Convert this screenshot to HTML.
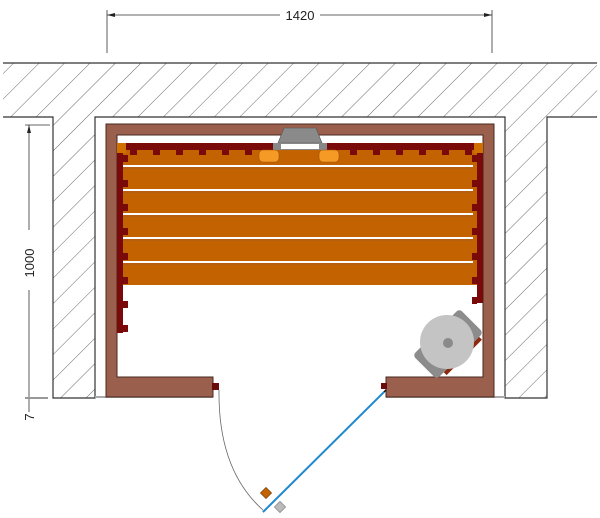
<!DOCTYPE html>
<html><head><meta charset="utf-8"><style>html,body{margin:0;padding:0;background:#fff}svg{display:block}</style></head><body>
<svg width="600" height="518" viewBox="0 0 600 518" xmlns="http://www.w3.org/2000/svg" font-family="Liberation Sans, sans-serif">
<defs>
<pattern id="h" patternUnits="userSpaceOnUse" width="18" height="18" patternTransform="rotate(45)">
<rect width="18" height="18" fill="#fff"/><line x1="0" y1="0" x2="0" y2="18" stroke="#444" stroke-width="0.8"/>
</pattern>
</defs>
<path d="M3,63 H597 V117 H547 V398 H505 V117 H95 V398 H53 V117 H3 Z" fill="url(#h)"/>
<line x1="3" y1="63" x2="597" y2="63" stroke="#333" stroke-width="1.2"/>
<polyline points="3,117 53,117 53,398 95,398 95,117 505,117 505,398 547,398 547,117 597,117" fill="none" stroke="#333" stroke-width="1.2"/>
<line x1="107" y1="10" x2="107" y2="53" stroke="#333" stroke-width="0.8"/>
<line x1="492" y1="10" x2="492" y2="53" stroke="#333" stroke-width="0.8"/>
<line x1="107" y1="15" x2="280" y2="15" stroke="#333" stroke-width="0.8"/>
<line x1="320" y1="15" x2="492" y2="15" stroke="#333" stroke-width="0.8"/>
<polygon points="107,15 115,13 115,17" fill="#222"/><polygon points="492,15 484,13 484,17" fill="#222"/>
<text x="300" y="20" font-size="13" text-anchor="middle" fill="#222">1420</text>
<line x1="25" y1="125" x2="50" y2="125" stroke="#333" stroke-width="0.8"/>
<line x1="29" y1="125" x2="29" y2="230" stroke="#333" stroke-width="0.8"/>
<line x1="29" y1="290" x2="29" y2="412" stroke="#333" stroke-width="0.8"/>
<line x1="25" y1="398" x2="48" y2="398" stroke="#999" stroke-width="2"/>
<polygon points="29,125 27,133 31,133" fill="#222"/>
<text transform="translate(34,263) rotate(-90)" font-size="13" text-anchor="middle" fill="#222">1000</text>
<text transform="translate(34,417) rotate(-90)" font-size="13" text-anchor="middle" fill="#222">7</text>
<line x1="95" y1="397" x2="213" y2="397" stroke="#aaa" stroke-width="2"/>
<line x1="386" y1="397" x2="505" y2="397" stroke="#aaa" stroke-width="2"/>
<path d="M106,124 H494 V397 H386 V377 H483 V135 H117 V377 H213 V397 H106 Z" fill="#9a5f4d" stroke="#4a2a20" stroke-width="1"/>
<rect x="117" y="143" width="366" height="142" fill="#c26200"/>
<g stroke="#fff" stroke-width="2"><line x1="123" y1="166" x2="473" y2="166"/><line x1="123" y1="190" x2="473" y2="190"/><line x1="123" y1="214" x2="473" y2="214"/><line x1="123" y1="238" x2="473" y2="238"/><line x1="123" y1="262" x2="473" y2="262"/></g>
<g stroke="#8a5a40" stroke-width="0.6"><line x1="123" y1="168" x2="473" y2="168"/><line x1="123" y1="192" x2="473" y2="192"/><line x1="123" y1="216" x2="473" y2="216"/><line x1="123" y1="240" x2="473" y2="240"/><line x1="123" y1="264" x2="473" y2="264"/></g>
<rect x="117" y="143" width="366" height="7" fill="#7a0a0a"/>
<rect x="117" y="143" width="9" height="10" fill="#d07000"/>
<rect x="474" y="143" width="9" height="10" fill="#d07000"/>
<rect x="117" y="153" width="6" height="180" fill="#7a0a0a"/>
<rect x="477" y="153" width="6" height="150" fill="#7a0a0a"/>
<g fill="#7a0a0a">
<rect x="130" y="150" width="7" height="5"/><rect x="153" y="150" width="7" height="5"/><rect x="176" y="150" width="7" height="5"/><rect x="199" y="150" width="7" height="5"/><rect x="222" y="150" width="7" height="5"/><rect x="245" y="150" width="7" height="5"/>
<rect x="350" y="150" width="7" height="5"/><rect x="373" y="150" width="7" height="5"/><rect x="396" y="150" width="7" height="5"/><rect x="419" y="150" width="7" height="5"/><rect x="442" y="150" width="7" height="5"/><rect x="465" y="150" width="7" height="5"/>
<rect x="123" y="155" width="5" height="7"/><rect x="123" y="180" width="5" height="7"/><rect x="123" y="204" width="5" height="7"/><rect x="123" y="228" width="5" height="7"/><rect x="123" y="253" width="5" height="7"/><rect x="123" y="277" width="5" height="7"/><rect x="123" y="301" width="5" height="7"/><rect x="123" y="325" width="5" height="7"/>
<rect x="472" y="155" width="5" height="7"/><rect x="472" y="180" width="5" height="7"/><rect x="472" y="204" width="5" height="7"/><rect x="472" y="228" width="5" height="7"/><rect x="472" y="253" width="5" height="7"/><rect x="472" y="277" width="5" height="7"/><rect x="472" y="297" width="5" height="7"/>
</g>
<polygon points="284,128 316,128 322,143 278,143" fill="#8a8a8a" stroke="#555" stroke-width="0.6"/>
<rect x="273" y="143" width="54" height="7" fill="#888"/>
<rect x="281" y="144" width="38" height="5" fill="#fff"/>
<rect x="259" y="150" width="20" height="12" rx="4" fill="#f49a25" stroke="#a0520a" stroke-width="0.6"/>
<rect x="319" y="150" width="20" height="12" rx="4" fill="#f49a25" stroke="#a0520a" stroke-width="0.6"/>
<!-- stove -->
<g transform="rotate(-45 448 344)">
<rect x="415" y="327" width="66" height="34" rx="4" fill="#8c8c8c"/>
<rect x="425" y="361" width="50" height="4" fill="#8a2a10"/>
</g>
<circle cx="447" cy="342" r="27" fill="#c4c4c4"/>
<circle cx="448" cy="343" r="5" fill="#8a8a8a"/>
<rect x="212" y="383" width="7" height="7" fill="#6a0a0a"/>
<rect x="381" y="383" width="6" height="6" fill="#6a0a0a"/>
<path d="M219,390 Q218,470 263,510" fill="none" stroke="#666" stroke-width="0.8"/>
<line x1="386" y1="390" x2="263" y2="512" stroke="#111" stroke-width="1.5"/>
<line x1="384" y1="392" x2="263" y2="512" stroke="#1f8ad0" stroke-width="2"/>
<rect x="262" y="489" width="8" height="8" fill="#c26200" stroke="#5a2a00" stroke-width="0.5" transform="rotate(45 266 493)"/>
<rect x="276" y="503" width="8" height="8" fill="#bbb" stroke="#666" stroke-width="0.5" transform="rotate(45 280 507)"/>
</svg>
</body></html>
